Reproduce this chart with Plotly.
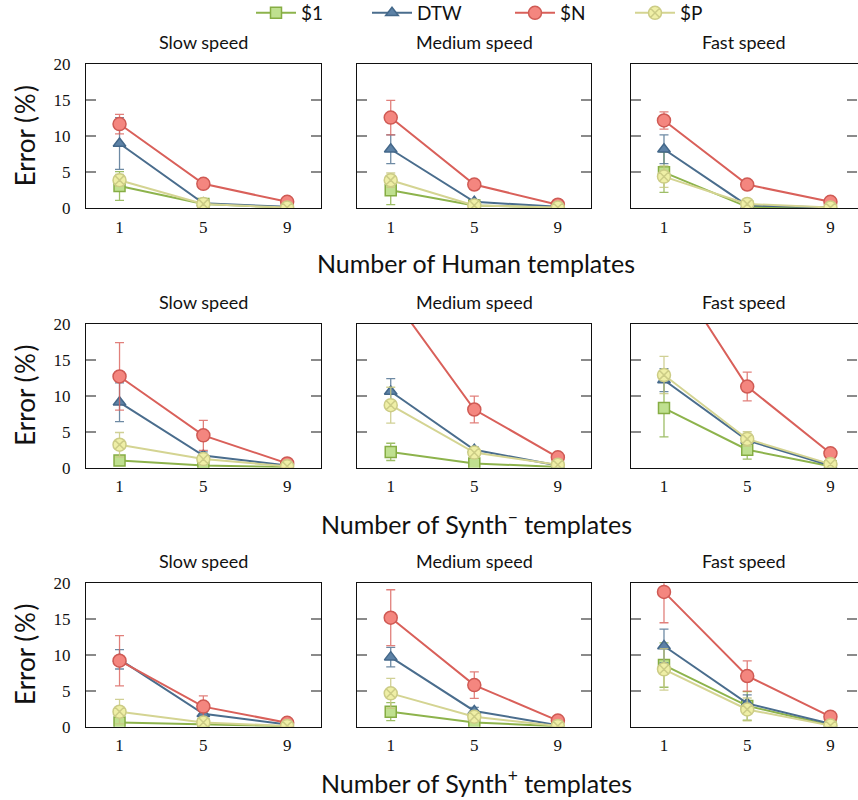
import plotly.graph_objects as go

templates = [1, 5, 9]
speeds = ["Slow speed", "Medium speed", "Fast speed"]
row_labels = ["Human", "Synth<sup>−</sup>", "Synth<sup>+</sup>"]
methods = ["$1", "DTW", "$N", "$P"]
y_ticks = [0, 5, 10, 15, 20]

# values per row: [slow, medium, fast], each over templates 1,5,9
human_d1 = [[3.1, 0.6, 0.1], [2.5, 0.4, 0.1], [5.0, 0.2, 0.1]]
human_dtw = [[9.0, 0.7, 0.2], [8.2, 0.9, 0.2], [8.2, 0.4, 0.1]]
human_dn = [[11.7, 3.4, 0.9], [12.6, 3.3, 0.5], [12.2, 3.3, 0.9]]
human_dp = [[3.9, 0.6, 0.1], [3.9, 0.4, 0.1], [4.4, 0.6, 0.1]]
human_d1_err = [[2.0, 0.3, 0.1], [2.0, 0.2, 0.1], [2.8, 0.2, 0.1]]
human_dtw_err = [[3.6, 0.3, 0.1], [2.0, 0.3, 0.1], [2.0, 0.2, 0.1]]
human_dn_err = [[1.35, 0.3, 0.2], [2.4, 0.3, 0.2], [1.2, 0.3, 0.2]]
human_dp_err = [[0.8, 0.3, 0.1], [1.0, 0.2, 0.1], [1.5, 0.3, 0.1]]

synm_d1 = [[1.0, 0.3, 0.1], [2.2, 0.6, 0.1], [8.3, 2.5, 0.2]]
synm_dtw = [[9.1, 1.7, 0.3], [10.6, 2.5, 0.3], [12.2, 3.8, 0.3]]
synm_dn = [[12.7, 4.5, 0.6], [24.1, 8.1, 1.45], [29.2, 11.3, 2.0]]
synm_dp = [[3.2, 1.2, 0.2], [8.7, 2.1, 0.4], [12.9, 4.0, 0.5]]
synm_d1_err = [[0.5, 0.2, 0.1], [1.2, 0.3, 0.1], [4.0, 1.3, 0.1]]
synm_dtw_err = [[2.7, 0.5, 0.1], [1.8, 0.4, 0.1], [1.6, 0.5, 0.1]]
synm_dn_err = [[4.7, 2.1, 0.2], [3.0, 1.85, 0.3], [3.0, 2.0, 0.3]]
synm_dp_err = [[1.7, 0.4, 0.1], [2.5, 0.5, 0.1], [2.6, 1.0, 0.1]]

synp_d1 = [[0.6, 0.3, 0.05], [2.1, 0.6, 0.05], [8.6, 2.9, 0.2]]
synp_dtw = [[9.4, 1.8, 0.3], [9.7, 2.2, 0.2], [11.25, 3.25, 0.4]]
synp_dn = [[9.2, 2.8, 0.55], [15.2, 5.8, 0.85], [18.8, 7.07, 1.4]]
synp_dp = [[2.1, 0.6, 0.1], [4.65, 1.4, 0.1], [8.0, 2.4, 0.15]]
synp_d1_err = [[0.4, 0.2, 0.05], [1.25, 0.3, 0.05], [3.1, 2.0, 0.1]]
synp_dtw_err = [[1.35, 0.4, 0.1], [1.35, 0.5, 0.1], [2.35, 1.2, 0.1]]
synp_dn_err = [[3.5, 1.5, 0.2], [3.9, 1.85, 0.3], [4.3, 2.1, 0.3]]
synp_dp_err = [[1.7, 0.3, 0.1], [2.1, 0.4, 0.1], [2.9, 1.6, 0.1]]

rows_vals = [
    [human_d1, human_dtw, human_dn, human_dp],
    [synm_d1, synm_dtw, synm_dn, synm_dp],
    [synp_d1, synp_dtw, synp_dn, synp_dp],
]
rows_errs = [
    [human_d1_err, human_dtw_err, human_dn_err, human_dp_err],
    [synm_d1_err, synm_dtw_err, synm_dn_err, synm_dp_err],
    [synp_d1_err, synp_dtw_err, synp_dn_err, synp_dp_err],
]

styles = [
    dict(line="#8db34c", fill="#bfe08f", edge="#86ad44", symbol="square", size=11, err="rgba(141,179,76,0.85)"),
    dict(line="#4a6d8d", fill="#5d82a6", edge="#44688a", symbol="triangle-up", size=11, err="rgba(74,109,141,0.8)"),
    dict(line="#d9605a", fill="#f4867f", edge="#cf5a54", symbol="circle", size=13, err="rgba(217,96,90,0.8)"),
    dict(line="#d4d492", fill="#efefa6", edge="#cccc86", symbol="circle-x", size=13, err="rgba(200,200,130,0.85)"),
]

W, H = 858, 800
col_px = [(86.0, 320.7), (357.3, 591.3), (630.7, 857.5)]
row_px = [(64.3, 208.3), (324.0, 467.7), (583.3, 726.7)]
x_ranges = [[-0.6, 10.6], [-0.6, 10.6], [-0.6, 10.3]]
legend_px = [251, 367, 510, 630]
legend_names = ["legend", "legend2", "legend3", "legend4"]

fig = go.Figure()
layout = dict()
annotations = []

tick_font = dict(family="Liberation Serif", size=17, color="#111")
sans = "Lato"

for r in range(3):
    for c in range(3):
        k = r * 3 + c + 1
        xa = "x" if k == 1 else f"x{k}"
        ya = "y" if k == 1 else f"y{k}"
        for m in range(4):
            st = styles[m]
            fig.add_trace(go.Scatter(
                x=templates, y=rows_vals[r][m][c],
                error_y=dict(type="data", array=rows_errs[r][m][c], visible=True,
                             color=st["err"], thickness=1.3, width=4.5),
                mode="lines+markers",
                line=dict(color=st["line"], width=2),
                marker=dict(symbol=st["symbol"], size=st["size"], color=st["fill"],
                            line=dict(color=st["edge"], width=1.5)),
                name=methods[m], legendgroup=methods[m], showlegend=(k == 1),
                legend=legend_names[m],
                xaxis=xa, yaxis=ya, cliponaxis=True,
            ))
        x0, x1 = col_px[c]
        y0, y1 = row_px[r]
        layout["xaxis" if k == 1 else f"xaxis{k}"] = dict(
            domain=[x0 / W, x1 / W], range=x_ranges[c], anchor=ya,
            tickvals=templates, ticktext=[str(t) for t in templates],
            ticks="", showline=True, mirror=True, linecolor="#111", linewidth=1.2,
            showgrid=False, zeroline=False, tickfont=tick_font, ticklabelstandoff=3,
            automargin=False,
        )
        layout["yaxis" if k == 1 else f"yaxis{k}"] = dict(
            domain=[1 - y1 / H, 1 - y0 / H], range=[0, 20], anchor=xa,
            tickvals=y_ticks, ticks="inside", ticklen=10, tickwidth=1.5, tickcolor="#8a8a8a",
            showline=True, mirror="ticks", linecolor="#111", linewidth=1.2,
            showgrid=False, zeroline=False, showticklabels=(c == 0), tickfont=tick_font,
            ticklabelstandoff=11, automargin=False,
        )
        annotations.append(dict(
            text=speeds[c], x=(x0 + x1) / 2 / W, y=1 - (y0 - 22) / H, xref="paper", yref="paper",
            showarrow=False, xanchor="center", yanchor="middle",
            font=dict(family=sans, size=18, color="#111"),
        ))
    y0, y1 = row_px[r]
    annotations.append(dict(
        text="Error\u00a0(\u200a%\u200a)", x=25 / W, y=1 - ((y0 + y1) / 2) / H, xref="paper", yref="paper",
        showarrow=False, textangle=-90, xanchor="center", yanchor="middle",
        font=dict(family=sans, size=26, color="#111"),
    ))
    annotations.append(dict(
        text=f"Number of {row_labels[r]} templates", x=476 / W, y=1 - (y1 + 55) / H,
        xref="paper", yref="paper", showarrow=False, xanchor="center", yanchor="middle",
        font=dict(family=sans, size=25, color="#111"),
    ))

legend_layout = {}
for m in range(4):
    legend_layout[legend_names[m]] = dict(
        orientation="h", x=legend_px[m] / W, y=1.0075, xanchor="left", yanchor="top",
        font=dict(family=sans, size=19, color="#111"), bgcolor="rgba(0,0,0,0)",
        itemwidth=40, tracegroupgap=0,
    )

fig.update_layout(
    **layout,
    **legend_layout,
    annotations=annotations,
    width=W, height=H,
    margin=dict(l=0, r=0, t=0, b=0, autoexpand=False),
    paper_bgcolor="white", plot_bgcolor="white",
    showlegend=True,
)

fig.write_html("out.html", config={"displayModeBar": False},
               post_script="document.body.style.margin='0';document.body.style.overflow='hidden';")
